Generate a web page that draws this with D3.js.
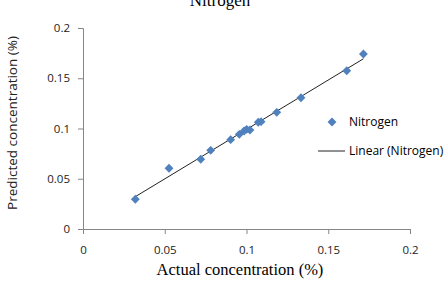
<!DOCTYPE html>
<html>
<head>
<meta charset="utf-8">
<script src="https://cdn.jsdelivr.net/npm/d3@7"></script>
<style>
  body { margin: 0; background: #fff; }
  svg { display: block; }
</style>
</head>
<body>
<svg width="444" height="284"></svg>
<script>
const actual = [0.032, 0.0526, 0.072, 0.0781, 0.0903, 0.0956, 0.0985, 0.1001, 0.1021, 0.1072, 0.1089, 0.1185, 0.1333, 0.1613, 0.1715];
const predicted = [0.0296, 0.0604, 0.0694, 0.0783, 0.0889, 0.0942, 0.0975, 0.0992, 0.0985, 0.1062, 0.1068, 0.1161, 0.1306, 0.1575, 0.1741];
const xTicks = [0, 0.05, 0.1, 0.15, 0.2];
const yTicks = [0, 0.05, 0.1, 0.15, 0.2];

const svg = d3.select('svg');
const sans = "'Open Sans', 'Liberation Sans', sans-serif";
const serif = "'Liberation Serif', 'DejaVu Serif', serif";
const axisColor = '#868686';
const blue = '#4F81BD';

const x = d3.scaleLinear().domain([0, 0.2]).range([83, 410]);
const y = d3.scaleLinear().domain([0, 0.2]).range([229, 28]);

// title (mostly cut off at the top)
svg.append('text')
    .attr('x', 220).attr('y', 6)
    .attr('text-anchor', 'middle')
    .style('font-family', serif).style('font-size', '17px')
    .text('Nitrogen');

// axes
const xAxis = svg.append('g')
    .attr('transform', `translate(0,${y(0)})`)
    .call(d3.axisBottom(x).tickValues(xTicks).tickFormat(d3.format('')).tickSize(5).tickPadding(12));
const yAxis = svg.append('g')
    .attr('transform', `translate(${x(0)},0)`)
    .call(d3.axisLeft(y).tickValues(yTicks).tickFormat(d3.format('')).tickSize(5).tickPadding(8));

[xAxis, yAxis].forEach(a => {
  a.select('.domain').attr('stroke', axisColor);
  a.selectAll('.tick line').attr('stroke', axisColor);
  a.selectAll('.tick text')
    .attr('fill', '#222')
    .style('font-family', sans).style('font-size', '11.5px');
});

// axis labels
svg.append('text')
    .attr('x', 240).attr('y', 275)
    .attr('text-anchor', 'middle')
    .style('font-family', serif).style('font-size', '16.5px')
    .text('Actual concentration (%)');

svg.append('text')
    .attr('transform', 'translate(17,123) rotate(-90)')
    .attr('text-anchor', 'middle')
    .style('font-family', sans).style('font-size', '13.5px')
    .attr('fill', '#222')
    .text('Predicted concentration (%)');

// linear trendline from least squares
const mx = d3.mean(actual), my = d3.mean(predicted);
const slope = d3.sum(actual, (v, i) => (v - mx) * (predicted[i] - my)) / d3.sum(actual, v => (v - mx) ** 2);
const intercept = my - slope * mx;
const [x0, x1] = d3.extent(actual);

svg.append('line')
    .attr('x1', x(x0)).attr('y1', y(slope * x0 + intercept))
    .attr('x2', x(x1)).attr('y2', y(slope * x1 + intercept))
    .attr('stroke', '#222').attr('stroke-width', 1);

// points
const diamond = d3.symbol().type(d3.symbolDiamond2).size(50);
svg.append('g').selectAll('path')
    .data(actual)
    .join('path')
    .attr('d', diamond)
    .attr('transform', (d, i) => `translate(${x(d)},${y(predicted[i])})`)
    .attr('fill', blue);

// legend
const legend = svg.append('g');
legend.append('path')
    .attr('d', diamond)
    .attr('transform', 'translate(332,122)')
    .attr('fill', blue);
legend.append('text')
    .attr('x', 349).attr('y', 126)
    .style('font-family', sans).style('font-size', '12px')
    .text('Nitrogen');
legend.append('line')
    .attr('x1', 318).attr('x2', 345)
    .attr('y1', 151).attr('y2', 151)
    .attr('stroke', '#222');
legend.append('text')
    .attr('x', 349).attr('y', 155)
    .style('font-family', sans).style('font-size', '12px')
    .text('Linear (Nitrogen)');
</script>
</body>
</html>
